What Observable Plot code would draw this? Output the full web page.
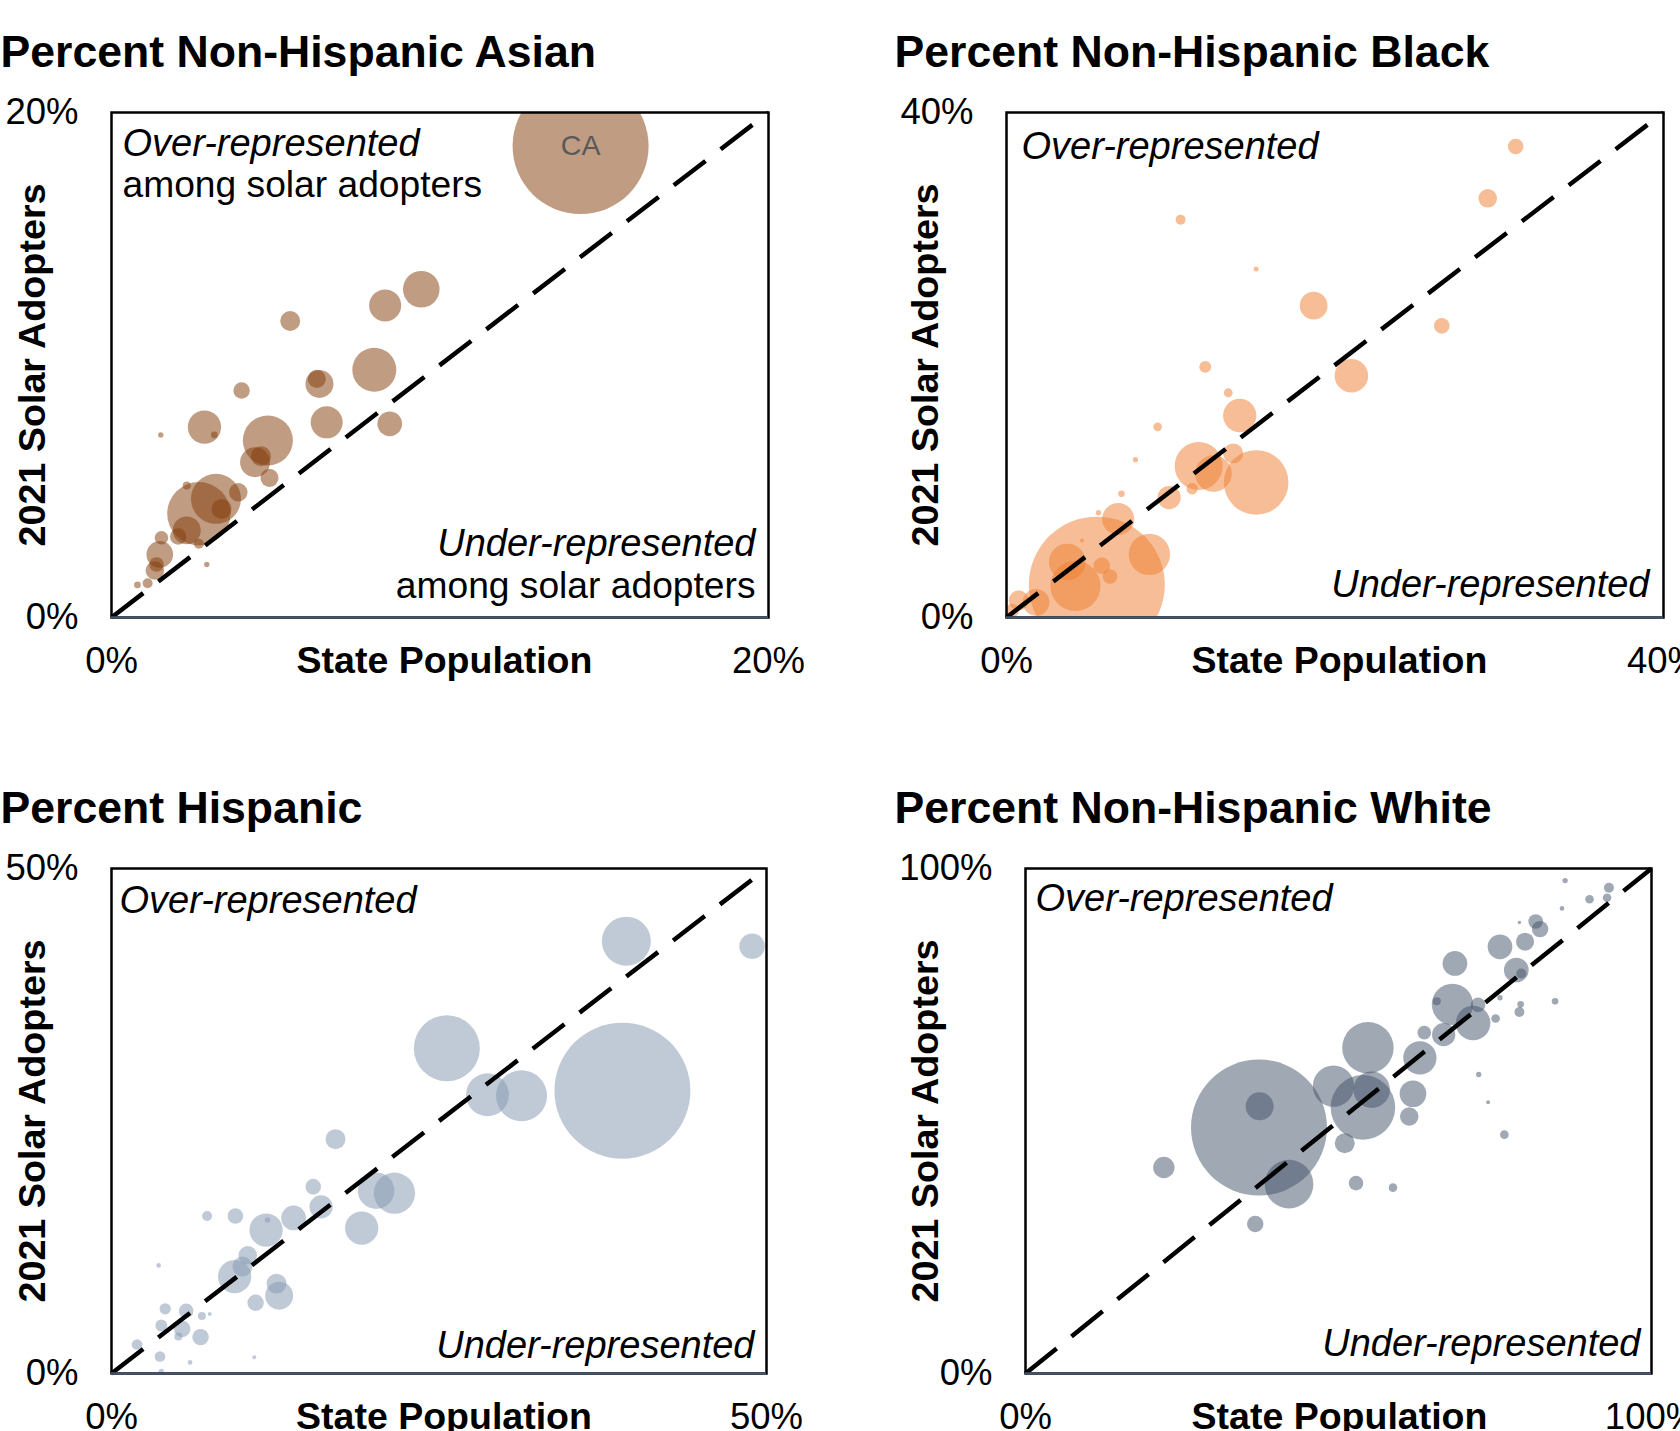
<!DOCTYPE html>
<html>
<head>
<meta charset="utf-8">
<script src="https://cdn.jsdelivr.net/npm/d3@7"></script>
<script src="https://cdn.jsdelivr.net/npm/@observablehq/plot@0.6"></script>
<style>
html, body { margin: 0; padding: 0; background: #fff; overflow: hidden; }
#page { position: relative; width: 1680px; height: 1431px; overflow: hidden; }
.panel { position: absolute; }
</style>
</head>
<body>
<div id="page"></div>
<script>
const FONT = '"Liberation Sans", Arial, Helvetica, sans-serif';

// ---------- Panel titles & text ----------
const titles = ["Percent Non-Hispanic Asian", "Percent Non-Hispanic Black", "Percent Hispanic", "Percent Non-Hispanic White"];
const axisMax = [20, 40, 50, 100];
const xLabel = "State Population";
const yLabel = "2021 Solar Adopters";

// ---------- Percent Non-Hispanic Asian ----------
const asianState =    [14.28, 9.43, 8.33, 5.44, 8.0, 6.33, 6.25, 3.96, 6.55, 8.47, 2.83, 3.13, 1.5, 4.76, 4.37, 4.55, 4.81, 2.66, 3.18, 3.35, 3.86, 2.29, 2.29, 2.03, 2.66, 1.52, 1.47, 1.37, 1.32, 1.10, 0.79, 2.90];
const asianAdopters = [18.67, 13.0, 12.36, 11.74, 9.81, 9.25, 9.45, 8.99, 7.73, 7.67, 7.54, 7.23, 7.23, 7.01, 6.15, 6.39, 5.53, 4.11, 4.70, 4.30, 4.96, 5.23, 3.45, 3.21, 2.92, 3.16, 2.50, 2.10, 1.86, 1.36, 1.29, 2.10];
const asianSize =     [1300, 94, 72, 28, 136, 55, 23, 19, 72, 43, 78, 3.1, 2, 176, 63, 28, 23, 282, 176, 28, 24, 4.5, 55, 19, 7, 13, 50, 15, 24, 7, 3.1, 2];
const asianLabel =    ["CA"];

// ---------- Percent Non-Hispanic Black ----------
const blackState =    [5.5, 31.0, 29.3, 10.6, 15.2, 18.7, 26.5, 21.0, 12.1, 13.5, 14.2, 9.2, 7.85, 7.0, 5.6, 4.6, 11.7, 12.6, 13.8, 15.2, 11.3, 9.9, 6.8, 8.7, 3.7, 4.2, 5.8, 6.3, 1.8, 0.75, 0.35];
const blackAdopters = [2.6, 37.3, 33.2, 31.5, 27.6, 24.7, 23.1, 19.15, 19.85, 17.8, 16.0, 15.1, 12.5, 9.8, 8.3, 6.1, 12.0, 11.4, 13.0, 10.7, 10.2, 9.5, 7.8, 5.0, 4.4, 2.5, 4.1, 3.25, 1.2, 1.35, 0.55];
const blackSize =     [1300, 17, 24, 7, 1.8, 54, 17, 79, 10, 5.5, 78, 5.2, 2, 3.1, 2, 1.1, 162, 94, 28, 293, 9, 38, 72, 120, 94, 176, 19, 15, 50, 28, 13];

// ---------- Percent Hispanic ----------
const hispState =    [39.0, 39.3, 48.9, 25.6, 28.7, 31.3, 17.1, 15.4, 16.0, 13.9, 11.8, 11.9, 9.46, 7.3, 3.6, 20.2, 21.6, 19.1, 9.4, 10.4, 10.0, 12.6, 12.8, 11.0, 4.1, 5.7, 6.9, 7.5, 3.8, 5.4, 5.1, 6.8, 1.95, 3.7, 6.0, 10.9, 3.8];
const hispAdopters = [28.0, 42.8, 42.3, 32.2, 27.6, 27.5, 23.2, 18.5, 16.5, 15.4, 14.2, 15.2, 15.6, 15.6, 10.7, 18.1, 17.85, 14.4, 9.6, 11.7, 10.6, 8.9, 7.7, 7.0, 6.4, 6.2, 5.7, 5.9, 4.75, 4.4, 3.66, 3.6, 2.87, 1.68, 1.1, 1.6, 0.2];
const hispSize =     [1300, 169, 46, 306, 129, 183, 28, 17, 38, 43, 78, 2, 17, 7, 1.5, 94, 120, 78, 78, 24, 28, 28, 55, 19, 9, 15, 4.5, 1.1, 10, 19, 4.5, 19, 8, 8, 1.5, 1.1, 2];

// ---------- Percent Non-Hispanic White ----------
const whiteState =    [37.3, 37.4, 22.1, 42.1, 36.7, 49.2, 53.9, 55.3, 54.7, 51.0, 52.8, 58.7, 61.9, 61.3, 63.0, 63.7, 66.8, 68.2, 65.7, 68.6, 71.5, 72.3, 75.1, 75.8, 72.4, 73.9, 76.5, 78.4, 79.2, 75.8, 79.8, 81.5, 82.2, 78.9, 78.9, 79.1, 84.6, 85.7, 86.2, 90.1, 93.2, 92.9];
const whiteAdopters = [48.7, 52.9, 40.8, 37.5, 29.6, 56.9, 52.7, 56.2, 64.5, 45.6, 37.7, 36.8, 55.4, 50.9, 62.5, 67.5, 67.1, 73.1, 73.7, 81.2, 69.4, 73.0, 70.3, 74.4, 59.2, 53.7, 47.3, 79.9, 79.2, 84.5, 85.5, 89.5, 88.0, 89.3, 71.6, 73.1, 73.7, 92.1, 97.6, 93.9, 96.2, 94.2];
const whiteSize =     [1300, 55, 32, 166, 19, 120, 293, 94, 186, 28, 15, 5.2, 50, 24, 78, 13, 38, 120, 4.5, 43, 84, 15, 5.2, 2, 2, 1.1, 5.2, 43, 7, 43, 23, 15, 19, 0.8, 7, 3.1, 3.1, 1.5, 2, 5.2, 7, 5.2];

const panels = [
  {title: titles[0], max: axisMax[0], state: asianState, adopt: asianAdopters, size: asianSize, labels: asianLabel,
   color: "#843C0C", left: 0, top: 0, width: 840, height: 756, mt: 112, mr: 72, mb: 139, ml: 111,
   titleDx: -111, titleDy: -46, yLabDx: -78.5, xLabDx: 4.5,
   over: ["Over-represented", "among solar adopters"], overDx: 11, overDy: [43, 84],
   under: ["Under-represented", "among solar adopters"], underDx: -13, underDy: [-62, -20]},
  {title: titles[1], max: axisMax[1], state: blackState, adopt: blackAdopters, size: blackSize, labels: [],
   color: "#ED7D31", left: 840, top: 0, width: 840, height: 756, mt: 112, mr: 17, mb: 139, ml: 166,
   titleDx: -112, titleDy: -46, yLabDx: -81, xLabDx: 4.5,
   over: ["Over-represented"], overDx: 15, overDy: [46],
   under: ["Under-represented"], underDx: -14, underDy: [-21]},
  {title: titles[2], max: axisMax[2], state: hispState, adopt: hispAdopters, size: hispSize, labels: [],
   color: "#8497B0", left: 0, top: 756, width: 840, height: 675, mt: 112, mr: 74, mb: 58, ml: 111,
   titleDx: -111, titleDy: -46, yLabDx: -78.5, xLabDx: 5,
   over: ["Over-represented"], overDx: 8, overDy: [44],
   under: ["Under-represented"], underDx: -12, underDy: [-16]},
  {title: titles[3], max: axisMax[3], state: whiteState, adopt: whiteAdopters, size: whiteSize, labels: [],
   color: "#44546A", left: 840, top: 756, width: 840, height: 675, mt: 112, mr: 29, mb: 58, ml: 185,
   titleDx: -131, titleDy: -46, yLabDx: -100, xLabDx: 1,
   over: ["Over-represented"], overDx: 10, overDy: [42],
   under: ["Under-represented"], underDx: -11, underDy: [-18]}
];

const page = document.getElementById("page");

for (const p of panels) {
  const data = p.state.map((s, i) => ({state: s, adopt: p.adopt[i], size: p.size[i], label: p.labels[i] || ""}));
  const diag = [0, p.max];
  const marks = [
    Plot.dot(data, {x: "state", y: "adopt", r: "size", fill: p.color, fillOpacity: 0.51, stroke: null, clip: true}),
    Plot.text(data.filter(d => d.label), {x: "state", y: "adopt", text: "label", fontSize: 28.5, fill: "#595959"}),
    Plot.line(diag, {x: d => d, y: d => d, stroke: "black", strokeWidth: 4.5, strokeDasharray: "40,19.1", strokeLinecap: "butt"}),
    Plot.frame({stroke: "black", strokeWidth: 2.5}),
    Plot.ruleY([0], {stroke: "#44546a", strokeWidth: 2.5}),
    Plot.axisX({ticks: diag, tickFormat: d => `${d}%`, tickSize: 0, tickPadding: 30, fontSize: 36.5, label: null}),
    Plot.axisY({ticks: diag, tickFormat: d => `${d}%`, tickSize: 0, tickPadding: 33, fontSize: 36.5, label: null}),
    Plot.text([xLabel], {frameAnchor: "bottom", text: d => d, dx: p.xLabDx, dy: 43, lineAnchor: "middle", fontSize: 37.5, fontWeight: "bold", fill: "black"}),
    Plot.text([yLabel], {frameAnchor: "left", text: d => d, rotate: -90, dx: p.yLabDx, lineAnchor: "middle", textAnchor: "middle", fontSize: 37.7, fontWeight: "bold", fill: "black"}),
    Plot.text([p.title], {frameAnchor: "top-left", text: d => d, dx: p.titleDx, dy: p.titleDy, textAnchor: "start", lineAnchor: "bottom", fontSize: 44.6, fontWeight: "bold", fill: "black"})
  ];
  p.over.forEach((t, i) => {
    marks.push(Plot.text([t], {frameAnchor: "top-left", text: d => d, dx: p.overDx, dy: p.overDy[i], textAnchor: "start", lineAnchor: "bottom", fontSize: i === 0 ? 38 : 37.2, fontStyle: i === 0 ? "italic" : "normal", fill: "black"}));
  });
  p.under.forEach((t, i) => {
    marks.push(Plot.text([t], {frameAnchor: "bottom-right", text: d => d, dx: p.underDx, dy: p.underDy[i], textAnchor: "end", lineAnchor: "bottom", fontSize: i === 0 ? 38 : 37.2, fontStyle: i === 0 ? "italic" : "normal", fill: "black"}));
  });

  const chart = Plot.plot({
    width: p.width,
    height: p.height,
    marginTop: p.mt,
    marginRight: p.mr,
    marginBottom: p.mb,
    marginLeft: p.ml,
    style: {fontFamily: FONT, background: "white", color: "black", overflow: "visible"},
    x: {domain: [0, p.max]},
    y: {domain: [0, p.max]},
    r: {type: "sqrt", domain: [0, 1300], range: [0, 68]},
    marks
  });
  const wrap = document.createElement("div");
  wrap.className = "panel";
  wrap.style.left = p.left + "px";
  wrap.style.top = p.top + "px";
  wrap.appendChild(chart);
  page.appendChild(wrap);
}
</script>
</body>
</html>
